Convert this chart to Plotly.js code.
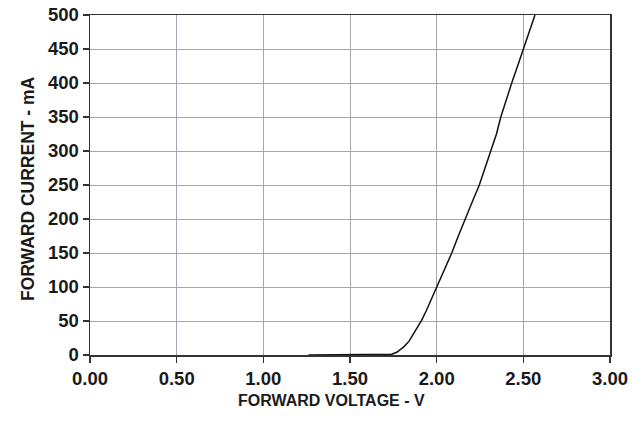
<!DOCTYPE html>
<html>
<head>
<meta charset="utf-8">
<script src="https://cdn.plot.ly/plotly-3.0.1.min.js"></script>
<style>html,body{margin:0;padding:0;background:#fff;}#chart{width:644px;height:421px;}</style>
</head>
<body>
<div id="chart"></div>
<script>
var forwardVoltage = [1.26, 1.50, 1.70, 1.74, 1.77, 1.81, 1.84, 1.865, 1.89, 1.913, 1.94, 1.97, 2.00, 2.04, 2.087, 2.125, 2.163, 2.205, 2.246, 2.28, 2.315, 2.345, 2.37, 2.40, 2.433, 2.467, 2.50, 2.533, 2.567];
var forwardCurrent = [0, 0, 0.5, 1, 4, 12, 20, 30, 40, 51, 65, 82, 100, 124, 150, 175, 200, 225, 250, 275, 300, 325, 350, 375, 400, 425, 450, 475, 500];
var xTickVals = [0, 0.5, 1, 1.5, 2, 2.5, 3];
var xTickText = ["0.00", "0.50", "1.00", "1.50", "2.00", "2.50", "3.00"];
var yTickVals = [0, 50, 100, 150, 200, 250, 300, 350, 400, 450, 500];
var xTitle = "FORWARD VOLTAGE - V";
var yTitle = "FORWARD CURRENT - mA";

var fontFam = '"Liberation Sans", Arial, sans-serif';
var axisCommon = {
  showline: true, linecolor: '#333333', linewidth: 1.5, mirror: true,
  showgrid: true, gridcolor: '#a3a8ae', gridwidth: 1,
  ticks: 'outside', ticklen: 6, tickwidth: 1.5, tickcolor: '#333333',
  zeroline: false, fixedrange: true,
  tickfont: {family: fontFam, size: 18.5, color: '#1a1a1a', weight: 'bold'}
};
var layout = {
  width: 644, height: 421,
  margin: {l: 90, r: 34, t: 15, b: 66},
  paper_bgcolor: '#ffffff', plot_bgcolor: '#ffffff',
  showlegend: false,
  xaxis: Object.assign({}, axisCommon, {range: [0, 3], tickvals: xTickVals, ticktext: xTickText}),
  yaxis: Object.assign({}, axisCommon, {range: [0, 500], tickvals: yTickVals}),
  annotations: [
    {text: '<b>' + xTitle + '</b>', xref: 'paper', yref: 'paper', x: 0.4646, y: -0.103, xanchor: 'center', yanchor: 'top', showarrow: false,
     font: {family: fontFam, size: 16, color: '#1a1a1a'}},
    {text: '<b>' + yTitle + '</b>', xref: 'paper', yref: 'paper', x: -0.118, y: 0.49, xanchor: 'center', yanchor: 'middle', textangle: -90, showarrow: false,
     font: {family: fontFam, size: 17.5, color: '#1a1a1a'}}
  ]
};
var trace = {
  x: forwardVoltage, y: forwardCurrent, type: 'scatter', mode: 'lines',
  line: {color: '#111111', width: 1.5}, hoverinfo: 'skip'
};
Plotly.newPlot('chart', [trace], layout, {displayModeBar: false, staticPlot: true});
</script>
</body>
</html>
